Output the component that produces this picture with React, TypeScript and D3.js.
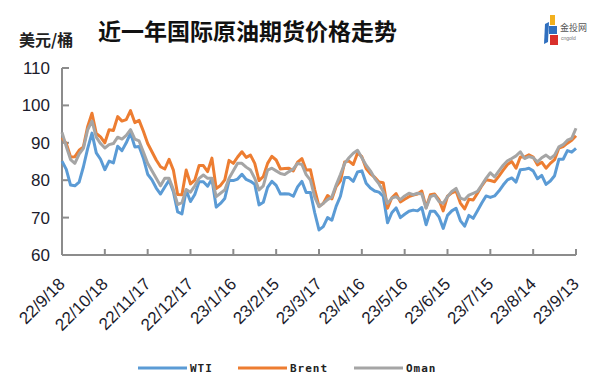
import React from 'react';
import * as d3 from 'd3';

// one value every 3 calendar days, starting 2022-09-18
const startDate = '2022-09-18';
const endDate = '2023-09-13';
const stepDays = 3;

const wti = [
  85.1, 82.9, 78.7, 78.5, 79.5, 83.6, 88.5, 92.6, 87.3, 85.6,
  82.8, 85.1, 84.6, 89.1, 87.9, 90.0, 92.6, 88.9, 89.0, 85.9,
  81.6, 80.1, 77.9, 76.3, 78.2, 80.0, 76.9, 71.5, 71.0, 77.3,
  74.3, 76.2, 79.6, 79.6, 78.4, 80.3, 72.8, 73.8, 75.1, 79.9,
  79.9, 80.3, 81.6, 80.2, 79.7, 78.9, 73.4, 74.1, 78.1, 79.7,
  78.6, 76.3, 76.4, 76.3, 75.7, 78.2, 79.7, 76.7, 76.7, 71.3,
  66.7, 67.6, 70.0, 69.3, 73.0, 75.7, 80.7, 80.7, 79.7, 82.2,
  82.5, 79.2, 77.9, 77.1, 76.8, 75.7, 68.6, 71.3, 72.6, 70.0,
  70.9, 71.7, 72.0, 71.8, 72.7, 68.1, 71.7, 71.7, 70.2, 67.1,
  70.6, 71.8, 72.5, 69.2, 67.7, 70.6, 69.8, 71.8, 73.9, 75.8,
  75.4, 75.8, 77.1, 78.7, 80.1, 80.6, 79.5, 82.8, 82.9, 83.2,
  82.5, 80.4, 81.3, 78.9, 79.8, 81.2, 85.6, 85.6, 87.9, 87.5,
  88.5,
];

const brent = [
  91.4, 89.8, 86.2, 86.3, 88.0, 88.9, 94.4, 97.9, 92.5, 91.6,
  90.0, 93.5, 93.3, 97.0, 95.8, 96.2, 98.6, 95.4, 96.0, 93.1,
  89.8, 87.6, 85.4, 83.6, 83.0, 85.6, 82.7, 76.2, 76.1, 82.7,
  79.0, 80.0, 83.9, 83.9, 82.3, 85.9, 77.8, 78.6, 80.1, 85.3,
  84.5, 86.2, 87.6, 86.1, 86.7, 84.5, 79.9, 81.0, 84.5, 86.4,
  85.4, 83.0, 83.1, 83.2, 82.5, 84.8, 85.8, 82.7, 82.8, 77.5,
  73.0, 73.8, 75.9, 75.0, 78.3, 79.8, 84.9, 85.1, 84.2, 87.3,
  86.3, 83.1, 81.7, 80.8, 79.5, 79.3, 72.5, 75.3, 76.4, 74.2,
  74.9, 75.6, 76.0, 76.3, 77.1, 72.7, 76.1, 76.3, 74.8, 71.8,
  75.7, 76.6, 77.1, 73.9, 72.3, 74.9, 74.7, 76.5, 78.5, 80.1,
  79.9, 79.6, 81.1, 82.7, 84.2, 85.0, 83.2, 86.2, 86.2, 86.8,
  86.2, 84.1, 84.8, 83.2, 84.5, 85.5, 88.6, 89.0, 89.9, 90.7,
  91.9,
];

const oman = [
  92.8, 89.0, 85.5, 84.5, 87.0, 88.5, 93.5, 95.8, 91.5, 89.8,
  88.6, 89.5, 89.8, 91.5, 91.0, 92.0, 93.5, 91.0, 90.5, 87.5,
  84.5, 82.5, 80.5, 78.5, 80.5, 80.5, 77.5, 73.5, 74.0, 77.5,
  76.8, 78.5, 80.5, 81.4, 80.5, 80.5, 75.6, 76.5, 77.4, 80.5,
  82.5, 84.5, 84.5, 83.5, 82.7, 80.5, 77.4, 78.5, 82.7, 83.2,
  82.5, 81.8, 81.5, 82.3, 83.0, 84.5, 84.2, 81.5, 80.0, 75.5,
  72.9, 73.8, 74.8, 75.5, 78.7, 81.5, 84.5, 86.0, 87.2, 88.0,
  86.0, 84.0, 82.5, 80.5, 79.0, 77.0, 73.8, 75.2, 75.6, 74.8,
  75.8, 76.5, 76.1, 76.5, 76.3, 72.5, 75.6, 76.0, 74.3, 73.8,
  75.6, 77.0, 77.8, 75.2, 74.8, 76.0, 76.5, 77.0, 78.7, 80.5,
  82.0, 80.9, 82.5, 84.0, 85.2, 85.8, 86.5, 87.6, 85.8, 86.3,
  86.0, 84.9, 86.0, 86.7, 85.8, 86.7, 88.9, 89.5, 90.7, 91.2,
  93.9,
];

const tickDates = [
  '2022-09-18', '2022-10-18', '2022-11-17', '2022-12-17', '2023-01-16', '2023-02-15', '2023-03-17',
  '2023-04-16', '2023-05-16', '2023-06-15', '2023-07-15', '2023-08-14', '2023-09-13',
];
const tickLabels = [
  '22/9/18', '22/10/18', '22/11/17', '22/12/17', '23/1/16', '23/2/15', '23/3/17',
  '23/4/16', '23/5/16', '23/6/15', '23/7/15', '23/8/14', '23/9/13',
];
const yTicks = [60, 70, 80, 90, 100, 110];

const series = [
  { name: 'WTI', values: wti, color: '#5B9BD5' },
  { name: 'Brent', values: brent, color: '#ED7D31' },
  { name: 'Oman', values: oman, color: '#A5A5A5' },
];

const W = 598;
const H = 388;
const parse = d3.utcParse('%Y-%m-%d');
const numFont = '"Liberation Sans", Arial, sans-serif';
const cjkFont = '"Noto Sans CJK SC", sans-serif';

const Logo = () => (
  <g transform="translate(543, 12)">
    <polygon points="2,12 6,10 5,30 1,32" fill="#2f6fbf" />
    <rect x="7" y="3" width="5" height="10" fill="#f2b01e" />
    <rect x="6" y="14" width="8" height="8" fill="#2f6fbf" />
    <rect x="7" y="23" width="8" height="10" fill="#d9302c" />
    <text x="17" y="19" fontSize="9" fontFamily={cjkFont} fill="#555">金投网</text>
    <text x="18" y="28" fontSize="5" fontFamily={numFont} fill="#777">cngold</text>
  </g>
);

const App = () => {
  const start = parse(startDate);
  const x = d3.scaleUtc().domain([start, parse(endDate)]).range([62, 576]);
  const y = d3.scaleLinear().domain([60, 110]).range([255, 68]);
  const dateAt = (i) => d3.utcDay.offset(start, i * stepDays);

  const line = d3.line()
    .x((d, i) => x(dateAt(i)))
    .y(d => y(d));

  const legendPos = [138, 238, 354];

  return (
    <svg width={W} height={H} style={{ position: 'absolute', left: 0, top: 0, background: '#fff' }}>
      <text x={19} y={46} fontSize={16} fontWeight="bold" fontFamily={cjkFont} fill="#222">美元/桶</text>
      <text x={98} y={40} fontSize={23} fontWeight="bold" fontFamily={cjkFont} fill="#111">近一年国际原油期货价格走势</text>
      <Logo />

      {/* y axis */}
      <line x1={62} x2={62} y1={y(110)} y2={y(60)} stroke="#8c8c8c" strokeWidth={2} />
      {yTicks.map(t => (
        <g key={t}>
          <line x1={62} x2={69} y1={y(t)} y2={y(t)} stroke="#8c8c8c" strokeWidth={2} />
          <text x={50} y={y(t)} dy="0.35em" textAnchor="end" fontSize={17} fontFamily={numFont} fill="#1c1c2c">{t}</text>
        </g>
      ))}

      {/* x axis */}
      <line x1={62} x2={576} y1={255} y2={255} stroke="#8c8c8c" strokeWidth={2} />
      {tickDates.map((d, i) => {
        const tx = x(parse(d));
        return (
          <g key={d}>
            <line x1={tx} x2={tx} y1={255} y2={249} stroke="#8c8c8c" strokeWidth={2} />
            <text transform={`translate(${tx + 4}, 285) rotate(-45)`} textAnchor="end" fontSize={17}
              fontFamily={numFont} fill="#1c1c2c">{tickLabels[i]}</text>
          </g>
        );
      })}

      {series.map(s => (
        <path key={s.name} d={line(s.values)} fill="none" stroke={s.color} strokeWidth={3}
          strokeLinejoin="round" />
      ))}

      {/* legend */}
      {series.map((s, i) => (
        <g key={s.name} transform={`translate(${legendPos[i]}, 368)`}>
          <line x1={0} x2={49} y1={0} y2={0} stroke={s.color} strokeWidth={3} />
          <text x={52} y={0} dy="0.35em" fontSize={11} fontWeight="bold" fontFamily='"DejaVu Sans Mono", monospace'
            letterSpacing={1} fill="#222">{s.name}</text>
        </g>
      ))}
    </svg>
  );
};

export default App;
